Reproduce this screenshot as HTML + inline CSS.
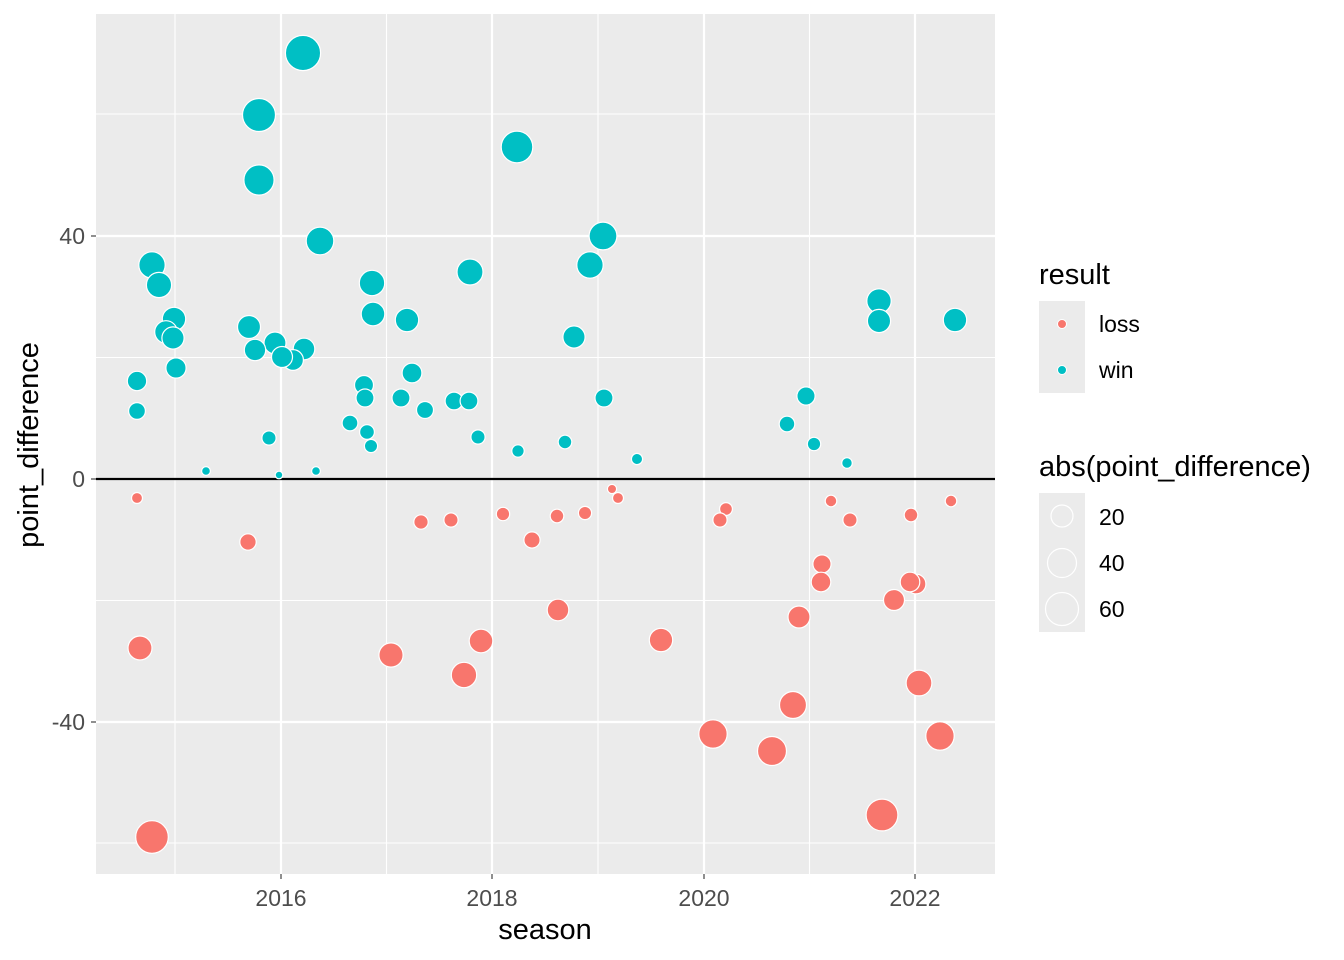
<!DOCTYPE html>
<html><head><meta charset="utf-8"><style>html,body{margin:0;padding:0;background:#fff}svg{display:block;font-family:"Liberation Sans",Arial,sans-serif}</style></head>
<body>
<svg id="s" width="1344" height="960" xmlns="http://www.w3.org/2000/svg">
<rect x="96" y="14" width="899" height="860" fill="#ebebeb"/>
<g stroke="#fff" stroke-width="1.1">
<line x1="96" x2="995" y1="114" y2="114"/><line x1="96" x2="995" y1="357.5" y2="357.5"/><line x1="96" x2="995" y1="600.5" y2="600.5"/><line x1="96" x2="995" y1="843" y2="843"/>
<line y1="14" y2="874" x1="175" x2="175"/><line y1="14" y2="874" x1="386.5" x2="386.5"/><line y1="14" y2="874" x1="598" x2="598"/><line y1="14" y2="874" x1="809.5" x2="809.5"/>
</g>
<g stroke="#fff" stroke-width="2.2">
<line x1="96" x2="995" y1="236" y2="236"/><line x1="96" x2="995" y1="479" y2="479"/><line x1="96" x2="995" y1="722" y2="722"/>
<line y1="14" y2="874" x1="281" x2="281"/><line y1="14" y2="874" x1="492" x2="492"/><line y1="14" y2="874" x1="704" x2="704"/><line y1="14" y2="874" x1="915" x2="915"/>
</g>
<line x1="96" x2="995" y1="479" y2="479" stroke="#000" stroke-width="2.2"/>
<g id="pts" stroke="#fff" stroke-width="1.2"></g>
<g fill="#4d4d4d" font-size="23" text-anchor="end">
<text x="85" y="244">40</text><text x="85" y="487">0</text><text x="85" y="730">-40</text>
</g>
<g stroke="#333" stroke-width="1.1"><line x1="91" x2="96" y1="236" y2="236"/><line x1="91" x2="96" y1="479" y2="479"/><line x1="91" x2="96" y1="722" y2="722"/>
<line x1="281" x2="281" y1="874" y2="879"/><line x1="492" x2="492" y1="874" y2="879"/><line x1="704" x2="704" y1="874" y2="879"/><line x1="915" x2="915" y1="874" y2="879"/></g>
<g fill="#4d4d4d" font-size="23" text-anchor="middle">
<text x="281" y="906">2016</text><text x="492" y="906">2018</text><text x="704" y="906">2020</text><text x="915" y="906">2022</text>
</g>
<text x="545" y="939" font-size="29" text-anchor="middle">season</text>
<text transform="translate(38,445) rotate(-90)" font-size="29" text-anchor="middle">point_difference</text>
<text x="1039" y="284" font-size="29">result</text>
<rect x="1039" y="301" width="46" height="92" fill="#ebebeb"/>
<circle cx="1062" cy="324" r="4.5" fill="#F8766D" stroke="#fff"/>
<circle cx="1062" cy="370" r="4.5" fill="#00BFC4" stroke="#fff"/>
<text x="1099" y="332" font-size="23">loss</text><text x="1099" y="378" font-size="23">win</text>
<text x="1039" y="476" font-size="29">abs(point_difference)</text>
<rect x="1039" y="493" width="46" height="139" fill="#ebebeb"/>
<g fill="none" stroke="#fff" stroke-width="1.2"><circle cx="1062" cy="516" r="11"/><circle cx="1062" cy="563" r="14.5"/><circle cx="1062" cy="609" r="16.5"/></g>
<text x="1099" y="525" font-size="23">20</text><text x="1099" y="571" font-size="23">40</text><text x="1099" y="617" font-size="23">60</text>
</svg>
<script>
var W=[[303,53],[259,115],[259,180],[517,147],[320,241],[603,236],[152,265],[590,265],[159,285],[470,272],[372,283],[879,301],[174,319],[373,314],[407,320],[879,321],[955,320],[249,327],[166,332],[173,338],[574,337],[275,343],[255,350],[304,349],[293,360],[282,357],[176,368],[137,381],[412,373],[364,385],[365,398],[401,398],[454,401],[469,401],[604,398],[806,396],[137,411],[425,410],[350,423],[367,432],[269,438],[478,437],[787,424],[565,442],[814,444],[371,446],[518,451],[637,459],[847,463],[206,471],[279,475],[316,471]];
var L=[[137,498],[612,489],[618,498],[831,501],[951,501],[726,509],[503,514],[585,513],[911,515],[557,516],[451,520],[421,522],[720,520],[850,520],[248,542],[532,540],[822,564],[821,582],[916,584],[910,582],[894,600],[558,610],[799,617],[140,648],[481,641],[661,640],[391,655],[464,675],[919,683],[793,705],[713,734],[940,736],[772,751],[882,815],[152,837]];
var g=document.getElementById('pts'),h='';
function add(a,c){a.forEach(function(p){var v=Math.abs(479-p[1])/6.075;var r=Math.max(3,1.83*Math.sqrt(v)+2.3);h+='<circle cx="'+p[0]+'" cy="'+p[1]+'" r="'+r.toFixed(1)+'" fill="'+c+'"/>';});}
add(W,'#00BFC4');add(L,'#F8766D');g.innerHTML=h;
</script>
</body></html>
